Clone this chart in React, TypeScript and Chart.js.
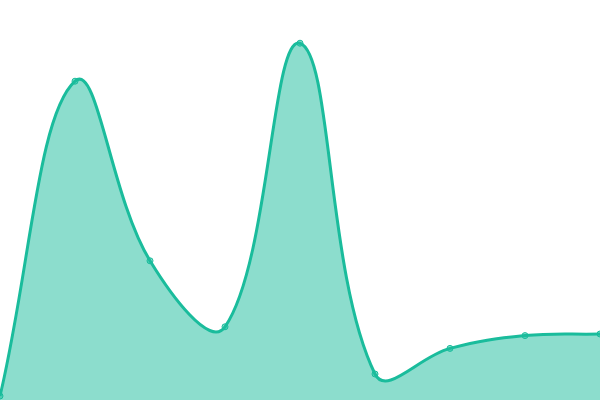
import { useEffect, useRef } from 'react';
import { Chart, registerables } from 'chart.js';

Chart.register(...registerables);

const labels = ['1', '2', '3', '4', '5', '6', '7', '8', '9'];
const values = [1, 79.7, 34.8, 18.3, 89.2, 6.5, 12.9, 16.1, 16.5];
const yMin = 0;
const yMax = 100;

export default function App() {
  const canvasRef = useRef<HTMLCanvasElement>(null);

  useEffect(() => {
    if (!canvasRef.current) return;
    const chart = new Chart(canvasRef.current, {
      type: 'line',
      data: {
        labels,
        datasets: [
          {
            data: values,
            fill: true,
            tension: 0.4,
            borderColor: 'rgb(26, 188, 156)',
            backgroundColor: 'rgba(26, 188, 156, 0.5)',
            borderWidth: 3,
            pointRadius: 3,
            pointBorderWidth: 1,
            pointBorderColor: 'rgb(26, 188, 156)',
            pointBackgroundColor: 'rgba(26, 188, 156, 0.5)',
          },
        ],
      },
      options: {
        responsive: false,
        animation: false,
        layout: { padding: 0, autoPadding: false },
        plugins: { legend: { display: false }, tooltip: { enabled: false } },
        scales: {
          x: { display: false },
          y: { display: false, min: yMin, max: yMax },
        },
      },
    });
    return () => chart.destroy();
  }, []);

  return (
    <div style={{ position: 'fixed', left: 0, top: 0, width: 600, height: 400, background: '#fff' }}>
      <canvas ref={canvasRef} width={600} height={400} />
    </div>
  );
}
